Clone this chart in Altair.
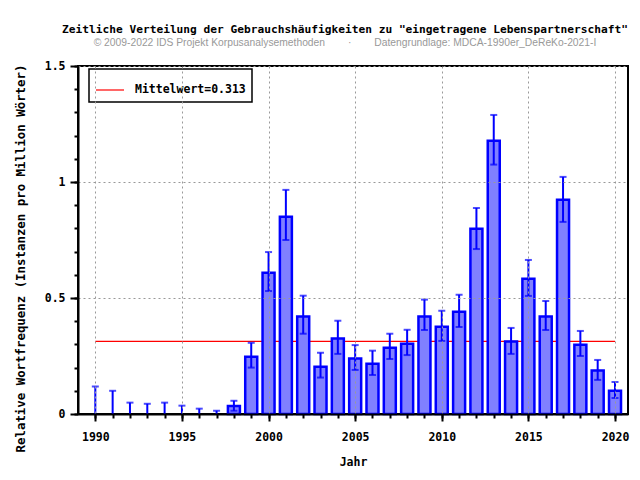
import altair as alt
import pandas as pd

years = list(range(1990, 2021))
freq = [0, 0, 0, 0, 0, 0, 0, 0, 0.034, 0.247, 0.609, 0.85, 0.42, 0.204, 0.325,
        0.239, 0.217, 0.286, 0.303, 0.42, 0.376, 0.441, 0.799, 1.178, 0.313,
        0.583, 0.42, 0.924, 0.299, 0.187, 0.1]
err_hi = [0.118, 0.1, 0.049, 0.044, 0.049, 0.036, 0.023, 0.014, 0.057, 0.307,
          0.698, 0.966, 0.51, 0.264, 0.402, 0.297, 0.273, 0.346, 0.363, 0.493,
          0.445, 0.514, 0.888, 1.289, 0.371, 0.664, 0.487, 1.022, 0.358, 0.233, 0.138]
err_lo = [0, 0, 0, 0, 0, 0, 0, 0, 0.014, 0.2, 0.53, 0.75, 0.346, 0.157, 0.259,
          0.19, 0.168, 0.237, 0.254, 0.362, 0.315, 0.375, 0.711, 1.075, 0.259,
          0.509, 0.362, 0.828, 0.25, 0.147, 0.069]
mean_value = 0.313
mean_label = "Mittelwert=0.313"
x_major = [1990, 1995, 2000, 2005, 2010, 2015, 2020]
x_minor = list(range(1990, 2021))
y_major = [0, 0.5, 1, 1.5]
y_minor = [round(i * 0.1, 1) for i in range(16)]

title_text = 'Zeitliche Verteilung der Gebrauchshäufigkeiten zu "eingetragene Lebenspartnerschaft"'
subtitle_text = ("© 2009-2022 IDS Projekt Korpusanalysemethoden\u00a0\u00a0\u00a0\u00a0\u00a0\u00a0\u00a0\u00a0·"
                 "\u00a0\u00a0\u00a0\u00a0\u00a0\u00a0\u00a0\u00a0Datengrundlage: MDCA-1990er_DeReKo-2021-I")

df = pd.DataFrame({"Jahr": years, "freq": freq, "hi": err_hi, "lo": err_lo})
mean_df = pd.DataFrame({"x": [years[0]], "x2": [years[-1]], "y": [mean_value], "lab": [mean_label]})

MONO = "DejaVu Sans Mono"
BLUE = "#0000ff"

x_scale = alt.Scale(domain=[1989, 2020.75], nice=False, zero=False, padding=0)
y_scale = alt.Scale(domain=[0, 1.5], nice=False, padding=0)

common = dict(
    domainColor="black", domainWidth=2, tickColor="black", tickWidth=2,
    labelFont=MONO, labelFontWeight="bold", labelFontSize=11.5, labelColor="black",
    labelFlush=False, labelOverlap=False, zindex=1,
    gridColor="#999999", gridDash=[2, 3], gridWidth=1,
)

x_axis_major = alt.Axis(
    orient="bottom", values=x_major, format="d", tickSize=7, labelPadding=10, grid=True,
    title="Jahr", titleFont=MONO, titleFontWeight="bold", titleFontSize=11.5,
    titleColor="black", titleY=48, titleBaseline="middle", **common,
)
x_axis_minor = alt.Axis(
    orient="bottom", values=x_minor, tickSize=4, labels=False, grid=False, domain=False,
    title=None, tickColor="black", tickWidth=2, zindex=1,
)
y_axis_major = alt.Axis(
    orient="left", values=y_major, format="~g", tickSize=8, labelPadding=5, grid=True,
    title="Relative Wortfrequenz (Instanzen pro Million Wörter)",
    titleFont=MONO, titleFontWeight="bold", titleFontSize=12.4, titleColor="black",
    titleX=-58, titleY=192, titleAngle=270, titleBaseline="middle", titleAlign="center",
    **common,
)
y_axis_minor = alt.Axis(
    orient="left", values=y_minor, tickSize=4, labels=False, grid=False, domain=False,
    title=None, tickColor="black", tickWidth=2, zindex=1,
)

base = alt.Chart(df)

mean_rule = alt.Chart(mean_df).mark_rule(strokeWidth=1.2).encode(
    x=alt.X("x:Q", scale=x_scale, axis=x_axis_major),
    x2="x2:Q",
    y=alt.Y("y:Q", scale=y_scale, axis=y_axis_major),
    color=alt.Color(
        "lab:N", scale=alt.Scale(domain=[mean_label], range=["#ff0000"]),
        legend=alt.Legend(
            title=None, orient="none", legendX=11, legendY=3,
            fillColor="white", strokeColor="black", cornerRadius=0,
            padding=6, symbolType="stroke", symbolSize=784, symbolStrokeWidth=1.2,
            labelFont=MONO, labelFontWeight="bold", labelFontSize=11.5,
            labelColor="black", labelOffset=10,
        ),
    ),
)

bars = base.transform_filter("datum.freq > 0").mark_bar(
    size=12, fill="#8080ff", stroke=BLUE, strokeWidth=2.5
).encode(
    x=alt.X("Jahr:Q", scale=x_scale, axis=x_axis_minor),
    y=alt.Y("freq:Q", scale=y_scale, axis=y_axis_minor),
    y2=alt.datum(0),
)

err = base.mark_rule(color=BLUE, strokeWidth=2).encode(
    x=alt.X("Jahr:Q", scale=x_scale, axis=None),
    y=alt.Y("lo:Q", scale=y_scale, axis=None),
    y2="hi:Q",
)
cap_hi = base.mark_tick(color=BLUE, orient="horizontal", size=7, thickness=2).encode(
    x=alt.X("Jahr:Q", scale=x_scale, axis=None),
    y=alt.Y("hi:Q", scale=y_scale, axis=None),
)
cap_lo = base.transform_filter("datum.lo > 0").mark_tick(
    color=BLUE, orient="horizontal", size=7, thickness=2
).encode(
    x=alt.X("Jahr:Q", scale=x_scale, axis=None),
    y=alt.Y("lo:Q", scale=y_scale, axis=None),
)

chart = alt.layer(mean_rule, bars, err, cap_hi, cap_lo).resolve_axis(
    x="independent", y="independent"
).properties(
    width=550, height=348,
    background="white",
    autosize=alt.AutoSizeParams(type="none"),
    padding={"left": 70, "top": 58, "right": 4, "bottom": 56},
    title=alt.Title(
        text=title_text, subtitle=subtitle_text,
        anchor="middle", frame="group", offset=12, dx=-8,
        font=MONO, fontWeight="bold", fontSize=11.2, color="black",
        subtitleFont="Liberation Sans", subtitleFontSize=10.3, subtitleColor="#999999",
        subtitlePadding=3,
    ),
).configure_view(
    stroke="black", strokeWidth=2
).configure_legend(
    strokeWidth=1.5
)

chart.save("out.html", embed_options={"renderer": "svg", "actions": False})
